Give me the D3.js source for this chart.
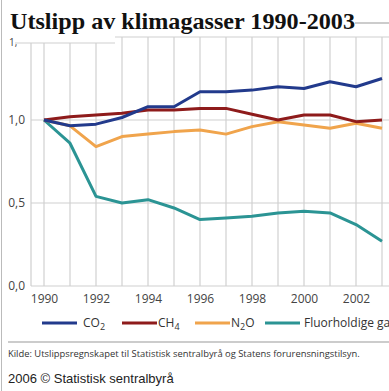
<!DOCTYPE html>
<html><head><meta charset="utf-8">
<script src="https://cdn.jsdelivr.net/npm/d3@7"></script>
<style>body{margin:0;background:#fff;overflow:hidden}</style>
</head><body>
<svg id="c" width="389" height="391"></svg>
<script>
const years = [1990,1991,1992,1993,1994,1995,1996,1997,1998,1999,2000,2001,2002,2003];
const co2  = [1.00,0.965,0.975,1.015,1.08,1.08,1.17,1.17,1.18,1.20,1.19,1.23,1.20,1.25];
const ch4  = [1.00,1.02,1.03,1.04,1.06,1.06,1.07,1.07,1.035,1.00,1.03,1.03,0.99,1.00];
const n2o  = [1.00,0.965,0.84,0.90,0.915,0.93,0.94,0.915,0.96,0.99,0.97,0.95,0.98,0.95];
const fluor= [1.00,0.86,0.54,0.50,0.52,0.47,0.40,0.41,0.42,0.44,0.45,0.44,0.37,0.27];
const yTicks = [0,0.5,1.0,1.5];
const xTicks = [1990,1992,1994,1996,1998,2000,2002];
const seriesNames = ["CO2","CH4","N2O","Fluorholdige gas"];
const colors = ["#223a8c","#8e1b1b","#f0a44c","#2b9494"];
const series = [co2,ch4,n2o,fluor];

const svg = d3.select("#c");
const x = d3.scaleLinear().domain([1989.5,2003.5]).range([31,395]);
const y = d3.scaleLinear().domain([0,1.5]).range([286,37]);
const fmt = d => d.toFixed(1).replace(".",",");

// vertical grid
svg.append("g").selectAll("line").data(years).join("line")
  .attr("x1",d=>x(d)).attr("x2",d=>x(d)).attr("y1",y(1.5)).attr("y2",y(0))
  .attr("stroke","#dadada").attr("stroke-width",1.5);
// horizontal grid
svg.append("g").selectAll("line").data(yTicks).join("line")
  .attr("x1",31).attr("x2",389).attr("y1",d=>y(d)).attr("y2",d=>y(d))
  .attr("stroke","#cfcfcf").attr("stroke-width",1.2);
// left axis line
svg.append("line").attr("x1",31).attr("x2",31).attr("y1",y(1.5)).attr("y2",y(0))
  .attr("stroke","#cfcfcf").attr("stroke-width",1.2);

// y labels (1,5 is hidden under the title in the reference)
const yAxis = d3.axisLeft(y).tickValues(yTicks.filter(v=>v<1.5)).tickFormat(fmt).tickSize(0).tickPadding(6);
const ya = svg.append("g").attr("transform","translate(31,0)").call(yAxis);
ya.select(".domain").remove();
ya.selectAll("text").attr("font-family","Open Sans, sans-serif").attr("font-size",12).attr("fill","#444");

// x labels
const xAxis = d3.axisBottom(x).tickValues(xTicks).tickFormat(d3.format("d")).tickSize(0).tickPadding(8);
const xa = svg.append("g").attr("transform",`translate(0,${y(0)})`).call(xAxis);
xa.select(".domain").remove();
xa.selectAll("text").attr("font-family","Open Sans, sans-serif").attr("font-size",12).attr("fill","#444");

// lines
const line = d3.line().x((d,i)=>x(years[i])).y(d=>y(d));
[3,2,1,0].forEach(k=>{
  svg.append("path").attr("d",line(series[k])).attr("fill","none")
    .attr("stroke",colors[k]).attr("stroke-width",3).attr("stroke-linejoin","round");
});

// title cover
svg.append("rect").attr("x",0).attr("y",0).attr("width",115).attr("height",43).attr("fill","#fff");
svg.append("line").attr("x1",15).attr("x2",115).attr("y1",43).attr("y2",43).attr("stroke","#cfcfcf").attr("stroke-width",1.2);
svg.append("rect").attr("x",115).attr("y",0).attr("width",240).attr("height",36).attr("fill","#fff");
svg.append("line").attr("x1",355).attr("x2",389).attr("y1",23).attr("y2",23).attr("stroke","#999").attr("stroke-width",1.2);
svg.append("text").attr("x",10).attr("y",29).attr("font-family","Liberation Serif, serif")
  .attr("font-weight","bold").attr("font-size",24).attr("fill","#111")
  .attr("textLength",345).attr("lengthAdjust","spacingAndGlyphs")
  .text("Utslipp av klimagasser 1990-2003");
svg.append("text").attr("x",9).attr("y",46).attr("font-family","Open Sans, sans-serif")
  .attr("font-size",10).attr("fill","#444").text("1,");

// left page border
svg.append("line").attr("x1",1.5).attr("x2",1.5).attr("y1",0).attr("y2",391).attr("stroke","#bbb").attr("stroke-width",1);

// legend
const legX = [42,122,195,265];
const lg = svg.append("g");
seriesNames.forEach((n,i)=>{
  lg.append("line").attr("x1",legX[i]).attr("x2",legX[i]+35).attr("y1",323).attr("y2",323)
    .attr("stroke",colors[i]).attr("stroke-width",3);
  const t = lg.append("text").attr("x",legX[i]+(i===0?41:i===3?39:36)).attr("y",327)
    .attr("font-family","Open Sans, sans-serif").attr("font-size",12).attr("fill","#333");
  if(i<3){
    const base = n.slice(0,n.length-1), sub=n.slice(-1);
    if(i===2){ t.append("tspan").text("N"); t.append("tspan").attr("font-size",9).attr("dy",3).text("2"); t.append("tspan").attr("dy",-3).text("O"); }
    else { t.append("tspan").text(base); t.append("tspan").attr("font-size",9).attr("dy",3).text(sub); }
  } else t.text(n);
});

// separator & source
svg.append("line").attr("x1",8).attr("x2",389).attr("y1",342).attr("y2",342).attr("stroke","#999").attr("stroke-width",1);
svg.append("text").attr("x",8).attr("y",357).attr("font-family","Open Sans, sans-serif").attr("font-size",9.4).attr("fill","#333")
  .text("Kilde: Utslippsregnskapet til Statistisk sentralbyrå og Statens forurensningstilsyn.");
svg.append("text").attr("x",8).attr("y",383).attr("font-family","Liberation Sans, Arial, sans-serif").attr("font-size",13).attr("fill","#222")
  .text("2006 © Statistisk sentralbyrå");
</script>
</body></html>
